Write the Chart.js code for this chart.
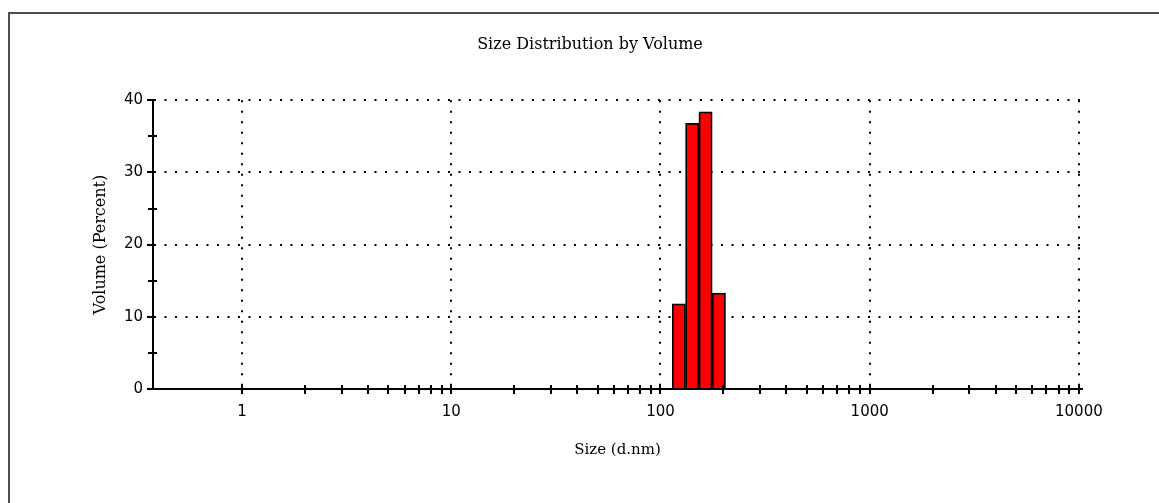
<!DOCTYPE html>
<html>
<head>
<meta charset="utf-8">
<script src="https://cdn.jsdelivr.net/npm/chart.js@4.4.0/dist/chart.umd.min.js"></script>
<style>
  html, body { margin:0; padding:0; background:#fff; overflow:hidden; }
  #frame { position:absolute; left:8px; top:12px; width:1200px; height:600px;
           border-left:2px solid #4d4d4d; border-top:2px solid #4d4d4d; }
  #wrap { position:absolute; left:0; top:0; width:1159px; height:503px; }
</style>
</head>
<body>
<div id="frame"></div>
<div id="wrap"><canvas id="chart" width="1159" height="503"></canvas></div>
<script>
// size classes (d.nm) and volume %
const sizes = [122.4, 141.8, 164.2, 190.1];
const volumes = [11.8, 36.8, 38.4, 13.3];

const xTickValues = [1, 10, 100, 1000, 10000];
const xTickLabels = ['1', '10', '100', '1000', '10000'];
const yTickValues = [0, 10, 20, 30, 40];
const yMinorTicks = [5, 15, 25, 35];

const serif = "'DejaVu Serif', serif";
const sans = "'DejaVu Sans', sans-serif";

// minor ticks 2..9 in each decade
const xMinorTicks = [];
xTickValues.slice(0, -1).forEach(d => { for (let k = 2; k <= 9; k++) xMinorTicks.push(d * k); });

// small tick marks that cross the axis lines
const crossTicks = {
  id: 'crossTicks',
  afterDatasetsDraw(chart){
    const { ctx, chartArea, scales: { x, y } } = chart;
    ctx.save();
    ctx.strokeStyle = '#000';
    ctx.lineWidth = 2;
    ctx.beginPath();
    xTickValues.concat(xMinorTicks).forEach(v => {
      const px = Math.round(x.getPixelForValue(v));
      ctx.moveTo(px, chartArea.bottom - 4);
      ctx.lineTo(px, chartArea.bottom + 5);
    });
    yMinorTicks.forEach(v => {
      const py = Math.round(y.getPixelForValue(v));
      ctx.moveTo(chartArea.left - 5, py);
      ctx.lineTo(chartArea.left + 4, py);
    });
    ctx.stroke();
    ctx.restore();
  }
};

const gridDots = { color:'#000', lineWidth:2 };
const axisLine = { color:'#000', width:2, dash:[2, 8.5] };

new Chart(document.getElementById('chart').getContext('2d'), {
  type: 'bar',
  data: {
    datasets: [{
      data: sizes.map((s, i) => ({ x: s, y: volumes[i] })),
      backgroundColor: '#ff0000',
      borderColor: '#000',
      borderWidth: 1.8,
      barPercentage: 1,
      categoryPercentage: 1
    }]
  },
  options: {
    responsive: false,
    animation: false,
    devicePixelRatio: 1,
    layout: { padding: { left:21, top:0, right:0, bottom:44 } },
    plugins: {
      legend: { display:false },
      tooltip: { enabled:false },
      title: {
        display: true,
        text: 'Size Distribution by Volume',
        color: '#000',
        font: { family: serif, size: 16, weight: 'normal' },
        padding: { top: 35, bottom: 46 }
      }
    },
    scales: {
      x: {
        type: 'logarithmic',
        min: 0.375, max: 10350,
        offset: false,
        afterBuildTicks: s => { s.ticks = xTickValues.map(v => ({ value: v })); },
        afterFit: s => { s.height = 70; },
        ticks: {
          autoSkip: false, maxRotation: 0, padding: 14, color: '#000',
          font: { family: sans, size: 15 },
          callback: (v, i) => xTickLabels[i]
        },
        grid: { ...gridDots, offset: false, drawTicks: false },
        border: axisLine,
        title: {
          display: true, text: 'Size (d.nm)', color: '#000',
          font: { family: serif, size: 15 },
          padding: { top: 0, bottom: 0 }
        }
      },
      y: {
        min: 0, max: 40,
        afterBuildTicks: s => { s.ticks = yTickValues.map(v => ({ value: v })); },
        afterFit: s => { s.width = 132; },
        ticks: { padding: 4, color: '#000', font: { family: sans, size: 15 } },
        grid: { ...gridDots, tickLength: 6, tickColor: '#000', tickWidth: 2, tickBorderDash: [] },
        border: axisLine,
        title: {
          display: true, text: 'Volume (Percent)', color: '#000',
          font: { family: serif, size: 16 },
          padding: { top: 70, bottom: 0 }
        }
      },
      yr: {
        position: 'right',
        grid: { display:false },
        border: { display:false },
        ticks: { display:false },
        afterFit: s => { s.width = 77; }
      }
    }
  },
  plugins: [crossTicks]
});
</script>
</body>
</html>
